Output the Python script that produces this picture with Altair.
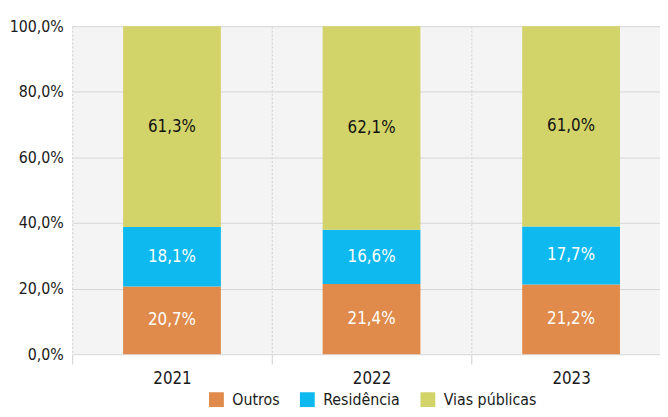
import altair as alt
import pandas as pd

years = ["2021", "2022", "2023"]
categories = ["Outros", "Residência", "Vias públicas"]
outros = [20.7, 21.4, 21.2]
residencia = [18.1, 16.6, 17.7]
vias = [61.3, 62.1, 61.0]
colors = ["#E08B4B", "#0DB9EE", "#D2D46A"]
y_ticks = [0, 0.2, 0.4, 0.6, 0.8, 1.0]

FONT = "DejaVu Sans Condensed, Roboto, sans-serif"

rows = []
for i, yr in enumerate(years):
    for k, (c, vals) in enumerate(zip(categories, [outros, residencia, vias])):
        rows.append({"year": yr, "cat": c, "order": k, "value": vals[i]})
df = pd.DataFrame(rows)

base = alt.Chart(df).transform_stack(
    stack="value", groupby=["year"], as_=["y0", "y1"],
    sort=[alt.SortField("order", order="ascending")], offset="normalize"
).transform_calculate(
    mid="(datum.y0 + datum.y1) / 2",
    label="replace(format(datum.value / 100, '.1%'), '.', ',')"
)

x = alt.X("year:N", sort=years,
          scale=alt.Scale(paddingInner=0, paddingOuter=0, range=[0, 606]),
          axis=alt.Axis(title=None, tickBand="extent", grid=True, gridDash=[2, 2],
                        gridColor="#cfcfcf", domain=False, ticks=True, tickColor="#cfcfcf",
                        tickSize=10, labelFontSize=17, labelFont=FONT, labelColor="#1a1a1a",
                        labelPadding=7, labelAngle=0))

bars = base.mark_bar(width=alt.RelativeBandSize(0.49)).encode(
    x=x,
    y=alt.Y("y0:Q", scale=alt.Scale(domain=[0, 1], nice=False),
            axis=alt.Axis(title=None, values=y_ticks, grid=True, gridColor="#d6d6d6",
                          domain=False, ticks=False, labelFontSize=16, labelFont=FONT,
                          labelColor="#1a1a1a", labelPadding=9,
                          labelExpr="replace(format(datum.value, '.1%'), '.', ',')")),
    y2="y1:Q",
    color=alt.Color("cat:N", scale=alt.Scale(domain=categories, range=colors),
                    legend=alt.Legend(orient="none", legendX=138, legendY=370,
                                      title=None, direction="horizontal",
                                      symbolType="square", symbolSize=225,
                                      symbolStrokeWidth=0, labelFontSize=16, labelFont=FONT,
                                      labelColor="#1a1a1a", columnPadding=20,
                                      labelOffset=8)),
)

texts = base.mark_text(fontSize=17, font=FONT).encode(
    x=alt.X("year:N", sort=years),
    y=alt.Y("mid:Q"),
    text="label:N",
    color=alt.condition(alt.datum.cat == "Vias públicas", alt.value("#111111"), alt.value("#ffffff")),
)

chart = alt.layer(bars, texts).properties(
    width=595, height=332,
    autosize=alt.AutoSizeParams(type="none"),
    padding={"left": 65, "top": 16, "right": 0, "bottom": 53},
    background="white",
).configure_view(fill="#f4f4f4", stroke=None)

chart.save("out.html", embed_options={"renderer": "svg", "actions": False})
